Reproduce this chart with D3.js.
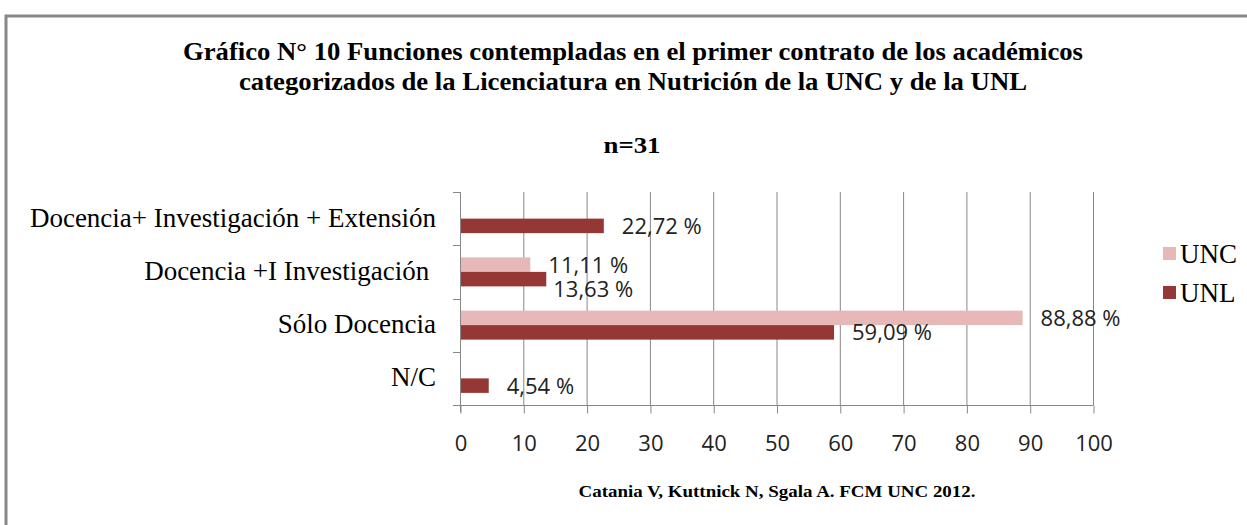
<!DOCTYPE html>
<html>
<head>
<meta charset="utf-8">
<script src="https://cdn.jsdelivr.net/npm/d3@7"></script>
<style>
  html, body { margin: 0; padding: 0; background: #fff; }
  svg { display: block; }
</style>
</head>
<body>
<svg id="chart" width="1247" height="525"></svg>
<script>
// ---- data ----
const categories = [
  "Docencia+ Investigación + Extensión",
  "Docencia +I Investigación ",
  "Sólo Docencia",
  "N/C"
];
const seriesNames = ["UNC", "UNL"];
const uncValues = [0, 11.11, 88.88, 0];
const unlValues = [22.72, 13.63, 59.09, 4.54];
const xTicks = [0, 10, 20, 30, 40, 50, 60, 70, 80, 90, 100];
const titleLines = [
  "Gráfico N° 10 Funciones contempladas en el primer contrato de los académicos",
  "categorizados de la Licenciatura en Nutrición de la UNC y de la UNL"
];
const subtitle = "n=31";
const footer = "Catania V, Kuttnick N, Sgala A. FCM UNC 2012.";

// ---- style ----
const colors = { UNC: "#E6B9B8", UNL: "#953735" };
const gridColor = "#878787";
const serif = "'Liberation Serif', 'Times New Roman', serif";
const sans = "'Open Sans', 'Liberation Sans', sans-serif";

const svg = d3.select("#chart");

// outer border
svg.append("rect")
  .attr("x", 6).attr("y", 16).attr("width", 1400).attr("height", 700)
  .attr("fill", "none").attr("stroke", "#888").attr("stroke-width", 3);

// title
const titleBase = [60, 90];
const titleWidths = [900, 788];
titleLines.forEach((t, i) => {
  svg.append("text")
    .attr("x", 633).attr("y", titleBase[i])
    .attr("text-anchor", "middle")
    .attr("font-family", serif).attr("font-weight", "bold")
    .attr("font-size", 25)
    .attr("textLength", titleWidths[i]).attr("lengthAdjust", "spacingAndGlyphs")
    .attr("fill", "#000")
    .text(t);
});
svg.append("text")
  .attr("x", 632).attr("y", 153)
  .attr("text-anchor", "middle")
  .attr("font-family", serif).attr("font-weight", "bold")
  .attr("font-size", 24)
  .attr("textLength", 57).attr("lengthAdjust", "spacingAndGlyphs")
  .text(subtitle);

// scales
const x = d3.scaleLinear().domain([0, 100]).range([460, 1093]);
const y = d3.scaleBand().domain(categories).range([192, 405])
  .paddingInner(0.455).paddingOuter(0.2275);
const ySub = d3.scaleBand().domain(seriesNames).range([0, y.bandwidth()]);
const yFull = d3.scaleBand().domain(categories).range([192, 405]);

// gridlines
svg.append("g").selectAll("line")
  .data(xTicks.filter(d => d > 0))
  .join("line")
  .attr("x1", d => x(d) + 0.5).attr("x2", d => x(d) + 0.5)
  .attr("y1", 192).attr("y2", 405)
  .attr("stroke", gridColor).attr("stroke-width", 1);

// x axis
const xAxis = svg.append("g").attr("transform", "translate(0.5,405.5)")
  .call(d3.axisBottom(x).tickValues(xTicks).tickSize(8).tickPadding(22).tickFormat(d3.format("d")));
xAxis.select(".domain").attr("stroke", gridColor).attr("d", `M${x(0)},0H${x(100)}`);
xAxis.selectAll(".tick line").attr("stroke", gridColor);
xAxis.selectAll(".tick text")
  .attr("font-family", sans).attr("font-size", 22).attr("fill", "#222");

// y axis (category ticks at band boundaries)
const boundaries = categories.map(c => yFull(c)).concat([405]);
const yAxisG = svg.append("g");
yAxisG.append("line")
  .attr("x1", 460.5).attr("x2", 460.5).attr("y1", 192).attr("y2", 412)
  .attr("stroke", gridColor);
yAxisG.selectAll("line.tk").data(boundaries).join("line").attr("class", "tk")
  .attr("x1", 453).attr("x2", 460.5)
  .attr("y1", d => Math.round(d) + 0.5).attr("y2", d => Math.round(d) + 0.5)
  .attr("stroke", gridColor);

// category labels
svg.append("g").selectAll("text").data(categories).join("text")
  .attr("x", 436)
  .attr("y", d => yFull(d) + yFull.bandwidth() / 2 + 8)
  .attr("text-anchor", "end")
  .attr("font-family", serif).attr("font-size", 27)
  .style("white-space", "pre")
  .attr("fill", "#000")
  .text(d => d);

// bars
const rows = [];
categories.forEach((c, i) => {
  rows.push({ cat: c, series: "UNC", value: uncValues[i] });
  rows.push({ cat: c, series: "UNL", value: unlValues[i] });
});
const barRows = rows.filter(r => r.value > 0);
svg.append("g").selectAll("rect").data(barRows).join("rect")
  .attr("x", x(0) + 1)
  .attr("y", d => y(d.cat) + ySub(d.series))
  .attr("width", d => x(d.value) - x(0) - 1)
  .attr("height", ySub.bandwidth())
  .attr("fill", d => colors[d.series]);

// data labels
const locale = d3.formatLocale({ decimal: ",", thousands: ".", grouping: [3], currency: ["", ""] });
const fmt = locale.format(".2f");
const nudge = { "Docencia +I Investigación |UNL": [-11, 10] };
svg.append("g").selectAll("text").data(barRows).join("text")
  .attr("x", d => x(d.value) + 18 + ((nudge[d.cat + "|" + d.series] || [0, 0])[0]))
  .attr("y", d => y(d.cat) + ySub(d.series) + ySub.bandwidth() / 2 + 8 + ((nudge[d.cat + "|" + d.series] || [0, 0])[1]))
  .attr("font-family", sans).attr("font-size", 22).attr("fill", "#222")
  .text(d => fmt(d.value) + " %");

// legend
const legend = svg.append("g");
const legY = [263, 302];
seriesNames.forEach((s, i) => {
  legend.append("rect")
    .attr("x", 1163).attr("y", legY[i] - 16).attr("width", 13).attr("height", 13)
    .attr("fill", colors[s]);
  legend.append("text")
    .attr("x", 1180).attr("y", legY[i])
    .attr("font-family", serif).attr("font-size", 27).attr("fill", "#000")
    .text(s);
});

// footer
svg.append("text")
  .attr("x", 777).attr("y", 497)
  .attr("text-anchor", "middle")
  .attr("font-family", serif).attr("font-weight", "bold")
  .attr("font-size", 17)
  .attr("textLength", 397).attr("lengthAdjust", "spacingAndGlyphs")
  .text(footer);
</script>
</body>
</html>
